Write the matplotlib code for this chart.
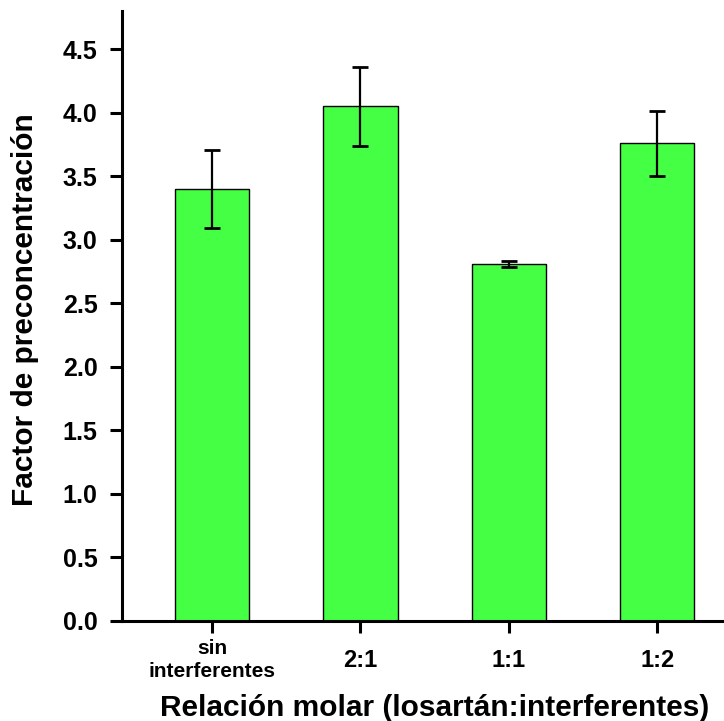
import numpy as np
import matplotlib; matplotlib.use('Agg')
import matplotlib.pyplot as plt

# data
categories = ['sin\ninterferentes', '2:1', '1:1', '1:2']
values = [3.40, 4.05, 2.81, 3.76]
errors = [0.31, 0.31, 0.025, 0.255]
yticks = [0.0, 0.5, 1.0, 1.5, 2.0, 2.5, 3.0, 3.5, 4.0, 4.5]

plt.rcParams['font.family'] = ['Liberation Sans', 'DejaVu Sans']
plt.rcParams['font.weight'] = 'bold'

fig = plt.figure(figsize=(7.24, 7.21), dpi=100)
ax = fig.add_axes([0.1685, 0.1387, 0.8315, 0.846])

x = np.arange(1, len(categories) + 1)
ax.bar(x, values, width=0.5, color='#44ff44', edgecolor='black', linewidth=1.0, zorder=2)
ax.errorbar(x, values, yerr=errors, fmt='none', ecolor='black', elinewidth=1.6,
            capsize=5.8, capthick=2.0, zorder=3)

ax.set_xlim(0.393, 4.45)
ax.set_ylim(0, 4.8)
ax.set_yticks(yticks)
ax.set_yticklabels([f'{v:.1f}' for v in yticks], fontsize=18, fontweight='bold')
ax.set_xticks(x)
ax.set_xticklabels(categories, fontweight='bold', va='center')
for i, lab in enumerate(ax.get_xticklabels()):
    lab.set_fontsize(15 if i == 0 else 17)
    lab.set_linespacing(1.3)

for s in ['top', 'right']:
    ax.spines[s].set_visible(False)
for s in ['left', 'bottom']:
    ax.spines[s].set_linewidth(2.2)
ax.tick_params(axis='both', direction='out', length=8.6, width=2.2)
ax.tick_params(axis='x', pad=19.5)
ax.tick_params(axis='y', pad=9)

ax.set_ylabel('Factor de preconcentración', fontsize=21.5, fontweight='bold')
ax.yaxis.set_label_coords(-0.138, 0.511)
ax.set_xlabel('Relación molar (losartán:interferentes)', fontsize=21.5, fontweight='bold')
ax.xaxis.set_label_coords(0.52, -0.1197)

plt.savefig('out.png', dpi=100)
